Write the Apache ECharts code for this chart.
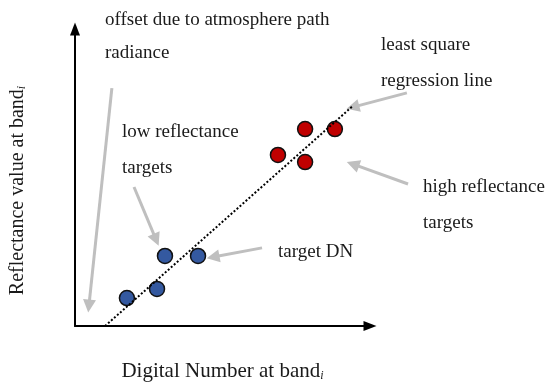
<!DOCTYPE html>
<html>
<head>
<meta charset="utf-8">
<script src="https://cdn.jsdelivr.net/npm/echarts@6/dist/echarts.min.js"></script>
<style>
  html, body { margin: 0; padding: 0; background: #fff; }
  #main { width: 550px; height: 390px; }
</style>
</head>
<body>
<div id="main"></div>
<script>
// data, in axis units (both axes 0..10, no tick labels shown)
const lowX = [1.76, 2.78, 3.05, 4.17]
const lowY = [0.94, 1.25, 2.36, 2.36]
const highX = [6.88, 7.80, 8.81, 7.80]
const highY = [5.76, 6.63, 6.63, 5.52]
const regX = [1.02, 9.42]
const regY = [0.00, 7.41]
// annotation arrows: [fromX, fromY, toX, toY]
const arrows = [
  [1.25, 8.01, 0.47, 0.67],   // offset
  [2.00, 4.68, 2.75, 2.90],   // low reflectance
  [6.34, 2.63, 4.68, 2.32],   // target DN
  [11.25, 7.85, 9.42, 7.37],  // regression line
  [11.29, 4.78, 9.42, 5.45]   // high reflectance
]

const font = '"Liberation Serif", "Times New Roman", serif'
const txtColor = '#1a1a1a'

function label(text, x, y) {
  return {
    type: 'text', x: x, y: y,
    style: { text: text, fill: txtColor, font: '19px ' + font, verticalAlign: 'middle' }
  }
}

const chart = echarts.init(document.getElementById('main'), null, { renderer: 'canvas' })

const axisCommon = {
  type: 'value', min: 0, max: 10,
  splitLine: { show: false },
  axisTick: { show: false },
  axisLabel: { show: false },
  axisLine: {
    show: true, onZero: false,
    symbol: ['none', 'triangle'], symbolSize: [10, 13],
    lineStyle: { color: '#000', width: 2 }
  }
}

function nameStyle(size) {
  return {
    fontFamily: font, fontSize: size, color: txtColor,
    rich: { i: { fontFamily: font, fontSize: 12, fontStyle: 'italic', color: txtColor, verticalAlign: 'bottom' } }
  }
}

chart.setOption({
  animation: false,
  backgroundColor: '#fff',
  grid: { left: 75, right: 180, top: 29, bottom: 64 },
  xAxis: Object.assign({}, axisCommon, {
    name: 'Digital Number at band{i|i}',
    nameLocation: 'middle', nameGap: 35,
    nameTextStyle: nameStyle(21)
  }),
  yAxis: Object.assign({}, axisCommon, {
    name: 'Reflectance value at band{i|i}',
    nameLocation: 'middle', nameGap: 47,
    nameTextStyle: Object.assign(nameStyle(20), { padding: [0, 26, 0, 0] })
  }),
  graphic: [
    label('offset due to atmosphere path', 105, 20),
    label('radiance', 105, 53),
    label('least square', 381, 45),
    label('regression line', 381, 81),
    label('low reflectance', 122, 132),
    label('targets', 122, 168),
    label('high reflectance', 423, 187),
    label('targets', 423, 223),
    label('target DN', 278, 252)
  ],
  series: [
    {
      type: 'line',
      data: regX.map((x, i) => [x, regY[i]]),
      showSymbol: false,
      lineStyle: { color: '#000', width: 2, type: 'dotted' },
      silent: true
    },
    {
      type: 'lines',
      coordinateSystem: 'cartesian2d',
      clip: false,
      data: arrows.map(a => ({ coords: [[a[0], a[1]], [a[2], a[3]]] })),
      symbol: ['none', 'triangle'],
      symbolSize: 13,
      lineStyle: { color: '#bfbfbf', width: 3, opacity: 1 },
      silent: true
    },
    {
      type: 'scatter',
      data: lowX.map((x, i) => [x, lowY[i]]),
      symbolSize: 15,
      itemStyle: { color: '#3459a0', borderColor: '#111', borderWidth: 1.5, opacity: 1 }
    },
    {
      type: 'scatter',
      data: highX.map((x, i) => [x, highY[i]]),
      symbolSize: 15,
      itemStyle: { color: '#c00000', borderColor: '#111', borderWidth: 1.5, opacity: 1 }
    }
  ]
})
</script>
</body>
</html>
